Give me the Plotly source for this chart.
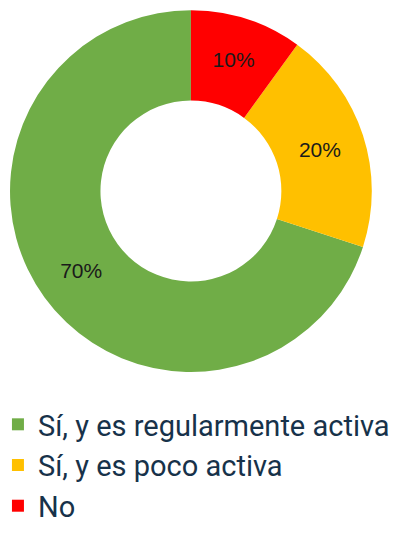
import plotly.graph_objects as go

GREEN = "#70AD47"
ORANGE = "#FFC000"
RED = "#FF0000"
NAVY = "#17324A"

labels = ["Sí, y es regularmente activa", "Sí, y es poco activa", "No"]
values = [70, 20, 10]
colors = [GREEN, ORANGE, RED]

# counterclockwise pies in plotly place the first slice clockwise from `rotation`,
# so rotation=108 makes red start at 12 o'clock like the original
fig = go.Figure(go.Pie(
    labels=labels, values=values, sort=False, hole=0.5,
    rotation=108,
    marker=dict(colors=colors, line=dict(width=0)),
    texttemplate="%{percent:.0%}", textposition="inside",
    insidetextorientation="horizontal",
    textfont=dict(family="Liberation Sans", size=21, color="#1a1a1a"),
    domain=dict(x=[0.005, 0.905], y=[0.326, 0.996]),
))
fig.update_layout(
    width=402, height=540,
    # keep the legend from pushing the pie around
    margin=dict(l=0, r=0, t=0, b=0, autoexpand=False),
    paper_bgcolor="white", plot_bgcolor="white",
    showlegend=True,
    legend=dict(
        orientation="v", x=-0.025, xanchor="left", y=0.276, yanchor="top",
        font=dict(family="Roboto", size=29, color=NAVY),
        itemwidth=30, tracegroupgap=0,
    ),
)
fig.write_html("out.html")
